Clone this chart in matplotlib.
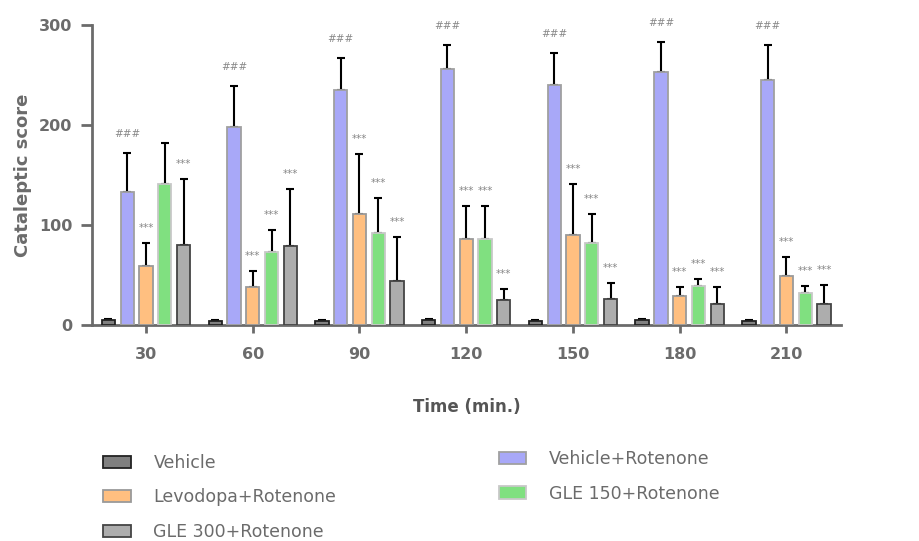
import matplotlib
matplotlib.use("Agg")
import matplotlib.pyplot as plt
import numpy as np
from matplotlib.patches import Patch

times = ["30", "60", "90", "120", "150", "180", "210"]
groups = ["Vehicle", "Vehicle+Rotenone", "Levodopa+Rotenone", "GLE 150+Rotenone", "GLE 300+Rotenone"]

vehicle = [5, 4, 4, 5, 4, 5, 4]
vehicle_err = [1, 1, 1, 1, 1, 1, 1]
veh_rot = [133, 198, 235, 256, 240, 253, 245]
veh_rot_err = [39, 41, 32, 24, 32, 30, 35]
levodopa = [59, 38, 111, 86, 90, 29, 49]
levodopa_err = [23, 16, 60, 33, 51, 9, 19]
gle150 = [141, 73, 92, 86, 82, 39, 32]
gle150_err = [41, 22, 35, 33, 29, 7, 7]
gle300 = [80, 79, 44, 25, 26, 21, 21]
gle300_err = [66, 57, 44, 11, 16, 17, 19]

# significance marks
veh_rot_sig = ["###"] * 7
levodopa_sig = ["***"] * 7
gle150_sig = ["", "***", "***", "***", "***", "***", "***"]
gle300_sig = ["***"] * 7

means = [vehicle, veh_rot, levodopa, gle150, gle300]
errs = [vehicle_err, veh_rot_err, levodopa_err, gle150_err, gle300_err]
sigs = [None, veh_rot_sig, levodopa_sig, gle150_sig, gle300_sig]
faces = ["#808080", "#a8a8f8", "#ffbf80", "#80e080", "#adadad"]
edges = ["#222222", "#a0a0a0", "#9a9a9a", "#c8c8c8", "#444444"]

gray = "#6b6b6b"
fig = plt.figure(figsize=(9.2, 5.41), dpi=100)
ax = fig.add_axes([0.1, 0.399, 0.814, 0.555])

x = np.arange(len(times))
pitch = 0.176
width = 0.125
for i in range(5):
    pos = x + (i - 2) * pitch
    ax.bar(pos, means[i], width, color=faces[i], edgecolor=edges[i], linewidth=1.3, zorder=3)
    ax.errorbar(pos, means[i], yerr=[np.zeros(len(times)), errs[i]], fmt="none",
                ecolor="black", elinewidth=1.5, capsize=3, capthick=1.5, zorder=2)
    if sigs[i] is not None:
        for p, m, e, s in zip(pos, means[i], errs[i], sigs[i]):
            if s:
                off = 10 if s == "***" else 14
                ax.text(p, m + e + off, s, ha="center", va="bottom", fontsize=7.5,
                        color="#888888", clip_on=False)

ax.set_xlim(-0.506, 6.51)
ax.set_ylim(0, 300)
ax.set_yticks([0, 100, 200, 300])
ax.set_xticks(x)
ax.set_xticklabels(times)
for lab in ax.get_xticklabels() + ax.get_yticklabels():
    lab.set_fontweight("bold")
    lab.set_color(gray)
    lab.set_fontsize(11.5)
ax.tick_params(axis="y", length=8, width=2, color=gray, pad=6)
ax.tick_params(axis="x", length=6, width=2, color=gray, pad=10)
for side in ["top", "right"]:
    ax.spines[side].set_visible(False)
for side in ["left", "bottom"]:
    ax.spines[side].set_color(gray)
    ax.spines[side].set_linewidth(2)

ax.set_ylabel("Cataleptic score", fontsize=13, fontweight="bold", color=gray, labelpad=5)
ax.set_xlabel("Time (min.)", fontsize=12, fontweight="bold", color="#555555", labelpad=26)

handles = [Patch(facecolor=faces[i], edgecolor=edges[i], linewidth=1.3) for i in range(5)]
leg1 = fig.legend([handles[0], handles[2], handles[4]], [groups[0], groups[2], groups[4]],
                  loc="upper left", bbox_to_anchor=(0.095, 0.19), frameon=False,
                  fontsize=12.5, labelspacing=0.95, handlelength=1.6, handletextpad=1.3,
                  labelcolor=gray)
leg2 = fig.legend([handles[1], handles[3]], [groups[1], groups[3]],
                  loc="upper left", bbox_to_anchor=(0.525, 0.197), frameon=False,
                  fontsize=12.5, labelspacing=0.95, handlelength=1.6, handletextpad=1.3,
                  labelcolor=gray)

fig.savefig("out.png", dpi=100)
